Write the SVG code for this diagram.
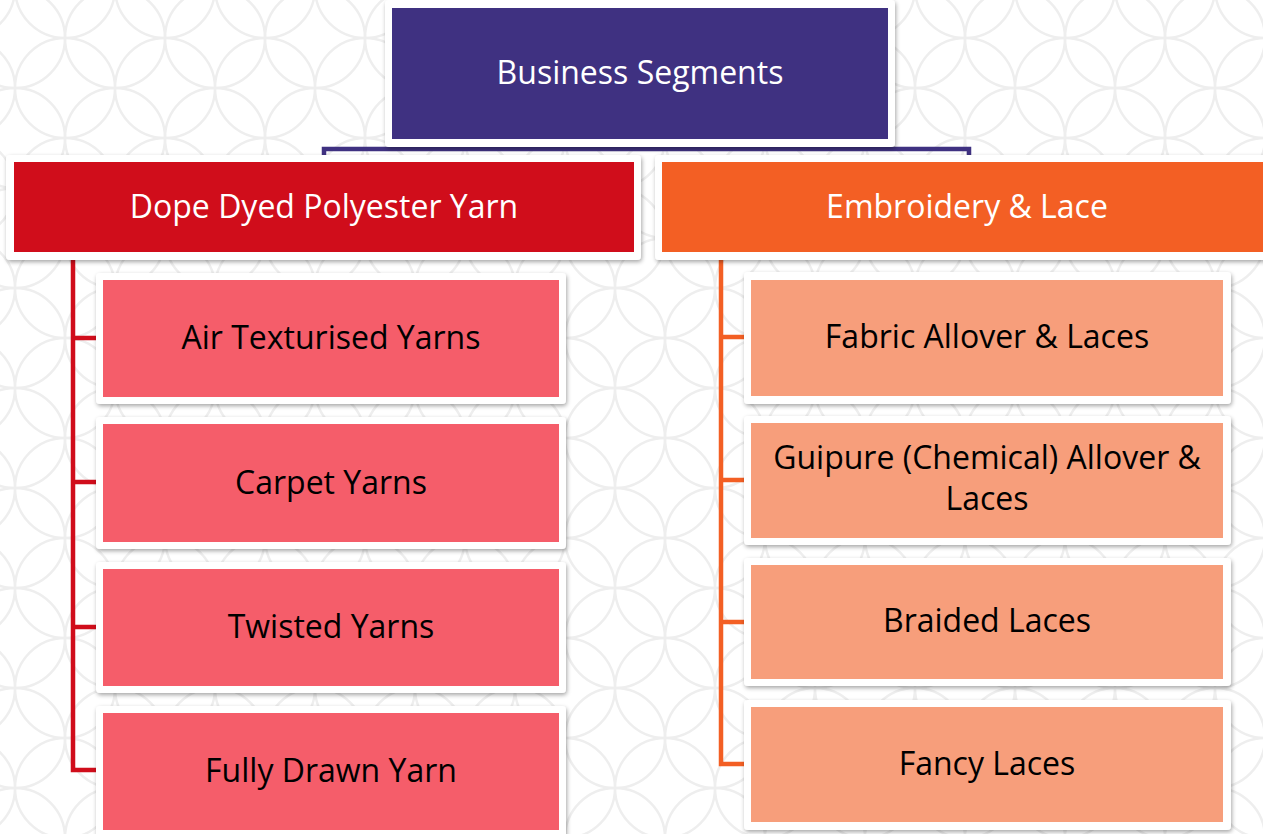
<svg xmlns="http://www.w3.org/2000/svg" width="1263" height="834" viewBox="0 0 1263 834">
  <defs>
    <!-- interlocking circle background -->
    <pattern id="rings" patternUnits="userSpaceOnUse" x="15" y="38" width="100" height="100">
      <g fill="none" stroke="#eeeeee" stroke-width="2.5">
        <circle cx="0" cy="0" r="50"/>
        <circle cx="100" cy="0" r="50"/>
        <circle cx="0" cy="100" r="50"/>
        <circle cx="100" cy="100" r="50"/>
        <circle cx="50" cy="50" r="50"/>
      </g>
    </pattern>
    <filter id="shadow" x="-5%" y="-10%" width="110%" height="125%">
      <feDropShadow dx="1" dy="2" stdDeviation="2" flood-color="#000" flood-opacity="0.35"/>
    </filter>
  </defs>
  <style>
    .frame { fill: #ffffff; filter: url(#shadow); }
    .top { fill: #3f3181; }
    .seg1 { fill: #d00d1b; }
    .seg2 { fill: #f35f24; }
    .sub1 { fill: #f55d6a; }
    .sub2 { fill: #f79e7b; }
    .lbl { font-family: "Open Sans", "Noto Sans", sans-serif; font-size: 32px; text-anchor: middle; }
    .light { fill: #ffffff; }
    .dark { fill: #000000; }
    .wire { fill: none; stroke-width: 4.5; stroke-linejoin: miter; }
  </style>

  <rect width="1263" height="834" fill="#ffffff"/>
  <rect width="1263" height="834" fill="url(#rings)"/>

  <!-- connectors -->
  <g id="connectors">
    <path class="wire" stroke="#3f3181" stroke-width="5" d="M640,139 V149 M324,162 V149 H969 V162"/>
    <path class="wire" stroke="#d00d1b" d="M73,252 V770 H96 M73,338 H96 M73,482 H96 M73,627 H96"/>
    <path class="wire" stroke="#f35f24" d="M721,252 V764 H744 M721,337 H744 M721,480 H744 M721,622 H744"/>
  </g>

  <!-- root -->
  <g id="business-segments">
    <rect class="frame" x="385" y="0" width="510" height="147" rx="4"/>
    <rect class="top" x="392" y="8" width="496" height="131"/>
    <text class="lbl light" x="640" y="84">Business Segments</text>
  </g>

  <!-- segment headers -->
  <g id="dope-dyed-polyester-yarn">
    <rect class="frame" x="6" y="155" width="635" height="105" rx="4"/>
    <rect class="seg1" x="14" y="162" width="620" height="90"/>
    <text class="lbl light" x="324" y="218">Dope Dyed Polyester Yarn</text>
  </g>
  <g id="embroidery-and-lace">
    <rect class="frame" x="655" y="155" width="630" height="105" rx="4"/>
    <rect class="seg2" x="662" y="162" width="620" height="90"/>
    <text class="lbl light" x="967" y="218">Embroidery &amp; Lace</text>
  </g>

  <!-- yarn products -->
  <g id="air-texturised-yarns">
    <rect class="frame" x="96" y="273" width="470" height="131" rx="4"/>
    <rect class="sub1" x="103" y="280" width="456" height="117"/>
    <text class="lbl dark" x="331" y="349">Air Texturised Yarns</text>
  </g>
  <g id="carpet-yarns">
    <rect class="frame" x="96" y="417" width="470" height="132" rx="4"/>
    <rect class="sub1" x="103" y="424" width="456" height="118"/>
    <text class="lbl dark" x="331" y="494">Carpet Yarns</text>
  </g>
  <g id="twisted-yarns">
    <rect class="frame" x="96" y="562" width="470" height="131" rx="4"/>
    <rect class="sub1" x="103" y="569" width="456" height="117"/>
    <text class="lbl dark" x="331" y="638">Twisted Yarns</text>
  </g>
  <g id="fully-drawn-yarn">
    <rect class="frame" x="96" y="706" width="470" height="134" rx="4"/>
    <rect class="sub1" x="103" y="713" width="456" height="117"/>
    <text class="lbl dark" x="331" y="782">Fully Drawn Yarn</text>
  </g>

  <!-- lace products -->
  <g id="fabric-allover-laces">
    <rect class="frame" x="744" y="272" width="487" height="132" rx="4"/>
    <rect class="sub2" x="751" y="280" width="472" height="116"/>
    <text class="lbl dark" x="987" y="348">Fabric Allover &amp; Laces</text>
  </g>
  <g id="guipure-allover-laces">
    <rect class="frame" x="744" y="416" width="487" height="129" rx="4"/>
    <rect class="sub2" x="751" y="423" width="472" height="115"/>
    <text class="lbl dark" x="987" y="469">Guipure (Chemical) Allover &amp;</text>
    <text class="lbl dark" x="987" y="510">Laces</text>
  </g>
  <g id="braided-laces">
    <rect class="frame" x="744" y="558" width="487" height="128" rx="4"/>
    <rect class="sub2" x="751" y="565" width="472" height="114"/>
    <text class="lbl dark" x="987" y="632">Braided Laces</text>
  </g>
  <g id="fancy-laces">
    <rect class="frame" x="744" y="700" width="487" height="130" rx="4"/>
    <rect class="sub2" x="751" y="707" width="472" height="115"/>
    <text class="lbl dark" x="987" y="775">Fancy Laces</text>
  </g>
</svg>
